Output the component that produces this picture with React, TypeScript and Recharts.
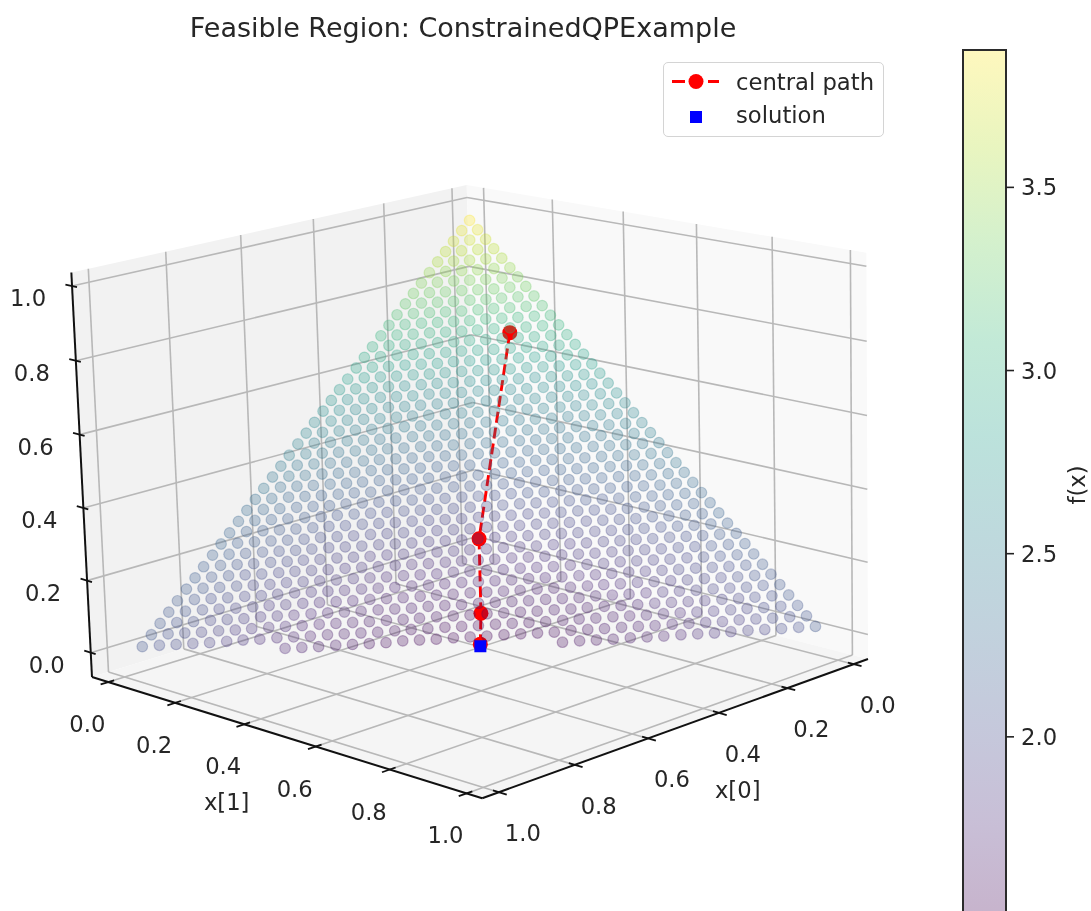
import { Bar, BarChart, Area, ComposedChart, Scatter, XAxis, YAxis } from 'recharts'

const WIDTH = 1091
const HEIGHT = 911
const FONT = '"DejaVu Sans", sans-serif'
const TEXT = '#262626'

// sampled lattice of the feasible region
const x0Grid = [0.02, 0.044, 0.069, 0.093, 0.117, 0.142, 0.166, 0.19, 0.214, 0.239, 0.263, 0.287, 0.312, 0.336, 0.36, 0.385, 0.409, 0.433, 0.457, 0.482, 0.506, 0.53, 0.555, 0.579, 0.603, 0.628, 0.652, 0.676, 0.7, 0.725, 0.749, 0.773, 0.798, 0.822, 0.846, 0.871, 0.895, 0.919, 0.943, 0.968]
const x1Grid = [0.02, 0.043, 0.066, 0.089, 0.112, 0.135, 0.157, 0.18, 0.203, 0.226, 0.249, 0.272, 0.295, 0.318, 0.341, 0.364, 0.386, 0.409, 0.432, 0.455, 0.478, 0.501, 0.524, 0.547, 0.57, 0.593, 0.615, 0.638, 0.661, 0.684, 0.707, 0.73, 0.753, 0.776, 0.799, 0.822, 0.844, 0.867, 0.89, 0.913, 0.936, 0.959]
// f(x): one part by lattice row, one by distance from the middle of the row
const fByRow = [3.87, 3.78, 3.7, 3.62, 3.54, 3.45, 3.37, 3.3, 3.22, 3.15, 3.07, 3.0, 2.93, 2.86, 2.8, 2.73, 2.66, 2.6, 2.54, 2.48, 2.42, 2.36, 2.31, 2.25, 2.2, 2.15, 2.1, 2.05, 2.0, 1.95, 1.91, 1.87, 1.82, 1.78, 1.75, 1.71, 1.67, 1.64, 1.6, 1.57, 1.54, 1.52, 1.5]
const fBySpread = [0, 0, 0, 0, 0.01, 0.01, 0.01, 0.02, 0.02, 0.03, 0.03, 0.04, 0.05, 0.06, 0.07, 0.08, 0.09, 0.1, 0.11, 0.12, 0.14, 0.15, 0.17, 0.18, 0.2, 0.22, 0.23, 0.25, 0.27, 0.29, 0.31, 0.33, 0.35, 0.38, 0.4, 0.42, 0.45, 0.47, 0.5, 0.52, 0.55, 0.58]

const pathX0 = [0.095, 0.379, 0.464, 0.5]
const pathX1 = [0.204, 0.383, 0.468, 0.5]
const pathZ = [0.691, 0.226, 0.066, 0.0]
const solution = [0.503, 0.503, -0.004]

const axisTicks = [0, 0.2, 0.4, 0.6, 0.8, 1]
const colorbarTicks = [2, 2.5, 3, 3.5]
const F_MIN = 1.5
const F_MAX = 3.875

const VIRIDIS = ['#440154', '#482878', '#3e4989', '#31688e', '#26828e', '#1f9e89', '#35b779', '#6ece58', '#b5de2b', '#fde725']

// axis limits of the box
const X0_LIM = [-0.044, 1.043]
const X1_LIM = [-0.05, 1.04]
const Z_LIM = [-0.068, 1.036]

// camera, calibrated on the box corners in the picture
const BACK = [477, 559]
const LEFT = [92, 677]
const RIGHT = [868, 659]
const TOP = [466.7, 185]
const W_LEFT = 0.92
const W_RIGHT = 0.917
const W_TOP = 0.978

function project(x0: number, x1: number, z: number) {
  const u = (x0 - X0_LIM[0]) / (X0_LIM[1] - X0_LIM[0])
  const v = (x1 - X1_LIM[0]) / (X1_LIM[1] - X1_LIM[0])
  const w = (z - Z_LIM[0]) / (Z_LIM[1] - Z_LIM[0])
  const d = 1 + u * (W_LEFT - 1) + v * (W_RIGHT - 1) + w * (W_TOP - 1)
  const at = (k: number) =>
    (BACK[k] + u * (W_LEFT * LEFT[k] - BACK[k]) + v * (W_RIGHT * RIGHT[k] - BACK[k]) + w * (W_TOP * TOP[k] - BACK[k])) / d
  return { px: at(0), py: at(1) }
}

function fColor(f: number) {
  const t = (Math.min(Math.max(f, F_MIN), F_MAX) - F_MIN) / (F_MAX - F_MIN)
  const pos = t * (VIRIDIS.length - 1)
  const i = Math.min(Math.floor(pos), VIRIDIS.length - 2)
  const rgb = (hex: string) => [1, 3, 5].map((s) => parseInt(hex.slice(s, s + 2), 16))
  const a = rgb(VIRIDIS[i])
  const b = rgb(VIRIDIS[i + 1])
  return `rgb(${a.map((c, k) => Math.round(c + (b[k] - c) * (pos - i))).join(',')})`
}

const simplexPoints = x0Grid.flatMap((x0, i) =>
  x1Grid.flatMap((x1, j) => {
    const z = 1 - x0 - x1
    if (z < 0) return []
    const f = fByRow[Math.min(i + j, fByRow.length - 1)] + fBySpread[Math.abs(i - j)]
    return [{ ...project(x0, x1, z), color: fColor(f) }]
  })
)

const pathPoints = pathX0.map((x0, i) => project(x0, pathX1[i], pathZ[i]))
const solutionPoint = [project(solution[0], solution[1], solution[2])]

const [x0Lo, x0Hi] = X0_LIM
const [x1Lo, x1Hi] = X1_LIM
const [zLo, zHi] = Z_LIM

// a convex polygon as a band per vertex, for a range Area
function paneBand(corners: number[][]) {
  const pts = corners.map(([a, b, c]) => project(a, b, c))
  const xs = [...new Set(pts.map((p) => p.px))].sort((a, b) => a - b)
  return xs.map((px) => {
    const ys: number[] = []
    pts.forEach((p, i) => {
      const q = pts[(i + 1) % pts.length]
      if (Math.min(p.px, q.px) <= px && px <= Math.max(p.px, q.px)) {
        if (p.px === q.px) ys.push(p.py, q.py)
        else ys.push(p.py + ((q.py - p.py) * (px - p.px)) / (q.px - p.px))
      }
    })
    return { px, band: [Math.min(...ys), Math.max(...ys)] }
  })
}

const panes = [
  { key: 'left', fill: '#f2f2f2', data: paneBand([[x0Lo, x1Lo, zLo], [x0Hi, x1Lo, zLo], [x0Hi, x1Lo, zHi], [x0Lo, x1Lo, zHi]]) },
  { key: 'right', fill: '#f9f9f9', data: paneBand([[x0Lo, x1Lo, zLo], [x0Lo, x1Hi, zLo], [x0Lo, x1Hi, zHi], [x0Lo, x1Lo, zHi]]) },
  { key: 'floor', fill: '#f5f5f5', data: paneBand([[x0Lo, x1Lo, zLo], [x0Hi, x1Lo, zLo], [x0Hi, x1Hi, zLo], [x0Lo, x1Hi, zLo]]) },
]

const seg = (a: number[], b: number[]) => [project(a[0], a[1], a[2]), project(b[0], b[1], b[2])]

const gridLines = axisTicks.flatMap((t) => [
  seg([t, x1Lo, zLo], [t, x1Hi, zLo]),
  seg([x0Lo, t, zLo], [x0Hi, t, zLo]),
  seg([t, x1Lo, zLo], [t, x1Lo, zHi]),
  seg([x0Lo, t, zLo], [x0Lo, t, zHi]),
  seg([x0Lo, x1Lo, t], [x0Hi, x1Lo, t]),
  seg([x0Lo, x1Lo, t], [x0Lo, x1Hi, t]),
])

const axisLines = [
  seg([x0Hi, x1Lo, zLo], [x0Hi, x1Hi, zLo]),
  seg([x0Lo, x1Hi, zLo], [x0Hi, x1Hi, zLo]),
  seg([x0Hi, x1Lo, zLo], [x0Hi, x1Lo, zHi]),
]

const tickMarks = axisTicks.flatMap((t) => [
  seg([x0Hi - 0.015, t, zLo], [x0Hi + 0.02, t, zLo]),
  seg([t, x1Hi - 0.015, zLo], [t, x1Hi + 0.02, zLo]),
  seg([x0Hi, x1Lo - 0.02, t], [x0Hi, x1Lo + 0.015, t]),
])

const tickLabels = axisTicks.flatMap((t) => [
  { ...project(x0Hi, t, zLo), label: t.toFixed(1), dx: -21, dy: 42 },
  { ...project(t, x1Hi, zLo), label: t.toFixed(1), dx: 24, dy: 41 },
  { ...project(x0Hi, x1Lo, t), label: t.toFixed(1), dx: -44, dy: 12 },
])

const axisTitles = [
  { ...project(x0Hi, 0.5, zLo), label: 'x[1]', dx: -53, dy: 67 },
  { ...project(0.5, x1Hi, zLo), label: 'x[0]', dx: 54, dy: 64 },
]

function DotShape(props: any) {
  const { cx, cy, payload } = props
  return <circle cx={cx} cy={cy} r={5.3} fill={payload.color} fillOpacity={0.29} stroke={payload.color} strokeOpacity={0.29} strokeWidth={1.2} />
}

function PathMarker(props: any) {
  return <circle cx={props.cx} cy={props.cy} r={7.5} fill="#ff0000" />
}

function SolutionMarker(props: any) {
  return <rect x={props.cx - 6} y={props.cy - 6} width={12} height={12} fill="#0000ff" />
}

function TextShape(props: any) {
  const { cx, cy, payload } = props
  return (
    <text x={cx + payload.dx} y={cy + payload.dy} textAnchor="middle" dominantBaseline="central" fontSize={22.7} fontFamily={FONT} fill={TEXT}>
      {payload.label}
    </text>
  )
}

const noMark = () => <g />

function Plot3D() {
  return (
    <ComposedChart width={WIDTH} height={HEIGHT} margin={{ top: 0, right: 0, bottom: 0, left: 0 }}>
      <XAxis type="number" dataKey="px" domain={[0, WIDTH]} hide />
      <YAxis type="number" dataKey="py" domain={[0, HEIGHT]} reversed hide />
      {panes.map((p) => (
        <Area key={p.key} data={p.data} dataKey="band" type="linear" stroke="none" fill={p.fill} fillOpacity={1} dot={false} activeDot={false} isAnimationActive={false} />
      ))}
      {gridLines.map((l, i) => (
        <Scatter key={`g${i}`} data={l} line={{ stroke: '#b8b8b8', strokeWidth: 1.6 }} shape={noMark} isAnimationActive={false} />
      ))}
      {axisLines.map((l, i) => (
        <Scatter key={`a${i}`} data={l} line={{ stroke: '#111111', strokeWidth: 2 }} shape={noMark} isAnimationActive={false} />
      ))}
      {tickMarks.map((l, i) => (
        <Scatter key={`t${i}`} data={l} line={{ stroke: '#111111', strokeWidth: 1.8 }} shape={noMark} isAnimationActive={false} />
      ))}
      <Scatter data={pathPoints} line={{ stroke: '#ff0000', strokeWidth: 2.9, strokeDasharray: '11 5' }} shape={PathMarker} isAnimationActive={false} />
      <Scatter data={simplexPoints} shape={DotShape} isAnimationActive={false} />
      <Scatter data={solutionPoint} shape={SolutionMarker} isAnimationActive={false} />
      <Scatter data={tickLabels} shape={TextShape} isAnimationActive={false} />
      <Scatter data={axisTitles} shape={TextShape} isAnimationActive={false} />
    </ComposedChart>
  )
}

const colorbarData = [{ name: 'f(x)', range: [F_MIN, F_MAX] }]

function Colorbar() {
  return (
    <BarChart width={141} height={960} data={colorbarData} margin={{ top: 50, right: 0, bottom: 40, left: 13 }} barCategoryGap={0}>
      <defs>
        <linearGradient id="fGradient" x1="0" y1="1" x2="0" y2="0">
          {VIRIDIS.map((c, i) => (
            <stop key={c} offset={i / (VIRIDIS.length - 1)} stopColor={c} stopOpacity={0.3} />
          ))}
        </linearGradient>
      </defs>
      <XAxis dataKey="name" hide />
      <YAxis
        orientation="right"
        width={85}
        type="number"
        domain={[F_MIN, F_MAX]}
        ticks={colorbarTicks}
        tickFormatter={(v: number) => v.toFixed(1)}
        axisLine={false}
        tickSize={8}
        tickMargin={7}
        tick={{ fontSize: 22.7, fontFamily: FONT, fill: TEXT }}
        tickLine={{ stroke: '#222222', strokeWidth: 1.6 }}
        label={{ value: 'f(x)', angle: -90, position: 'insideRight', offset: 14, style: { fontSize: 22.7, fontFamily: FONT, fill: TEXT, textAnchor: 'middle' } }}
      />
      <Bar dataKey="range" fill="url(#fGradient)" stroke="#2b2b2b" strokeWidth={2} isAnimationActive={false} />
    </BarChart>
  )
}

function LegendBox() {
  return (
    <div style={{ position: 'absolute', left: 663, top: 62, width: 221, height: 75, boxSizing: 'border-box', border: '1.5px solid #d4d4d4', borderRadius: 5, background: 'rgba(255,255,255,0.8)', fontFamily: FONT, fontSize: 22.7, color: TEXT }}>
      <svg width={60} height={72} style={{ position: 'absolute', left: 0, top: 0 }}>
        <line x1={8} x2={55} y1={18.5} y2={18.5} stroke="#ff0000" strokeWidth={2.9} strokeDasharray="13 23 11" />
        <circle cx={32} cy={18.5} r={7.5} fill="#ff0000" />
        <rect x={26} y={48} width={12} height={12} fill="#0000ff" />
      </svg>
      <div style={{ position: 'absolute', left: 72, top: 6, whiteSpace: 'nowrap' }}>central path</div>
      <div style={{ position: 'absolute', left: 72, top: 39, whiteSpace: 'nowrap' }}>solution</div>
    </div>
  )
}

export default function App() {
  return (
    <div style={{ position: 'absolute', left: 0, top: 0, width: WIDTH, height: HEIGHT, overflow: 'hidden', background: '#fff', filter: 'blur(0.7px)' }}>
      <div style={{ position: 'absolute', left: 0, top: 12, width: 926, textAlign: 'center', fontFamily: FONT, fontSize: 27, color: TEXT }}>
        Feasible Region: ConstrainedQPExample
      </div>
      <Plot3D />
      <LegendBox />
      <div style={{ position: 'absolute', left: 950, top: 0 }}>
        <Colorbar />
      </div>
    </div>
  )
}
